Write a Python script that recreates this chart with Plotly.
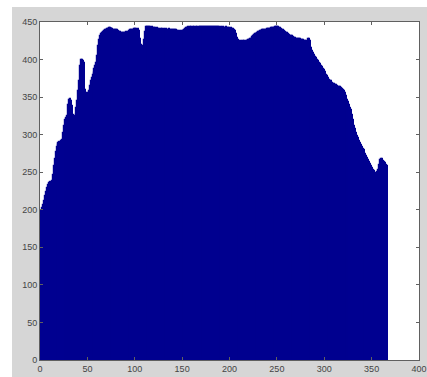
import plotly.graph_objects as go

# bar heights for x = 1 .. 367
heights = [
    196, 199, 203, 207, 212, 218, 224, 229, 233, 236,
    237, 236, 238, 246, 258, 268, 277, 284, 288, 289,
    290, 288, 291, 293, 302, 312, 320, 322, 325, 340,
    346, 347, 345, 338, 326, 324, 325, 328, 335, 345,
    358, 372, 392, 399, 400, 398, 395, 360, 355, 354,
    356, 358, 365, 372, 376, 380, 384, 388, 391, 395,
    405, 418, 426, 431, 434, 436, 437, 438, 439, 440,
    441, 441, 442, 442, 441, 442, 441, 440, 439, 439,
    440, 439, 438, 437, 437, 436, 436, 435, 436, 436,
    437, 436, 437, 438, 438, 439, 439, 440, 440, 441,
    441, 441, 440, 441, 438, 428, 419, 417, 418, 426,
    437, 444, 444, 443, 444, 443, 443, 442, 443, 442,
    442, 442, 441, 442, 441, 441, 440, 441, 441, 440,
    441, 440, 441, 441, 440, 440, 441, 440, 440, 439,
    440, 440, 439, 439, 438, 438, 437, 438, 437, 438,
    438, 439, 440, 441, 442, 442, 443, 442, 443, 443,
    442, 443, 443, 442, 443, 443, 442, 443, 443, 443,
    443, 443, 444, 443, 444, 444, 443, 444, 444, 443,
    444, 444, 443, 444, 443, 443, 444, 443, 443, 442,
    443, 443, 442, 443, 442, 442, 443, 442, 442, 442,
    441, 442, 441, 441, 440, 438, 434, 429, 426, 425,
    425, 424, 425, 424, 425, 425, 424, 425, 425, 426,
    426, 427, 428, 430, 432, 433, 434, 434, 435, 436,
    437, 437, 438, 438, 439, 439, 439, 440, 440, 441,
    441, 441, 441, 442, 442, 442, 442, 443, 443, 443,
    443, 443, 442, 442, 441, 440, 439, 438, 437, 436,
    435, 434, 433, 432, 432, 431, 430, 430, 429, 429,
    428, 428, 427, 427, 427, 426, 426, 426, 425, 425,
    425, 424, 427, 427, 425, 420, 416, 412, 409, 406,
    404, 402, 400, 398, 396, 394, 392, 390, 388, 386,
    383, 380, 378, 375, 374, 373, 372, 371, 369, 368,
    367, 366, 366, 365, 364, 364, 363, 362, 361, 360,
    358, 355, 352, 349, 346, 343, 340, 336, 333, 326,
    319, 312, 307, 302, 298, 295, 292, 289, 286, 284,
    281, 279, 277, 274, 271, 269, 266, 264, 261, 258,
    256, 253, 251, 249, 248, 250, 253, 260, 266, 268,
    268, 267, 265, 263, 262, 260, 258,
]
x_positions = list(range(1, len(heights) + 1))

x_ticks = [0, 50, 100, 150, 200, 250, 300, 350, 400]
y_ticks = [0, 50, 100, 150, 200, 250, 300, 350, 400, 450]

W, H = 427, 377
ML, MR, MT, MB = 40, 8, 22, 17
PW, PH = W - ML - MR, H - MT - MB

BAR_COLOR = "#000090"

fig = go.Figure(
    go.Bar(
        x=x_positions,
        y=heights,
        width=1,
        marker=dict(color=BAR_COLOR, line=dict(color=BAR_COLOR, width=1.2)),
        hoverinfo="skip",
    )
)

axis_common = dict(
    showline=True,
    linecolor="#606060",
    linewidth=1,
    mirror="ticks",
    ticks="inside",
    ticklen=3,
    tickcolor="#606060",
    showgrid=False,
    zeroline=False,
    automargin=False,
    tickfont=dict(family="Liberation Sans, Arial, sans-serif", size=9, color="#444444"),
    fixedrange=True,
)

fig.update_xaxes(range=[0, 400], tickvals=x_ticks, ticktext=[str(v) for v in x_ticks], **axis_common)
fig.update_yaxes(range=[0, 450], tickvals=y_ticks, ticktext=[str(v) for v in y_ticks], **axis_common)

# white strips outside the gray figure area (top and left edge of the image)
fig.add_shape(type="rect", xref="paper", yref="paper",
              x0=-ML / PW, x1=-(ML - 12) / PW, y0=-MB / PH, y1=1 + MT / PH,
              fillcolor="white", line=dict(width=0), layer="below")
fig.add_shape(type="rect", xref="paper", yref="paper",
              x0=-ML / PW, x1=1 + MR / PW, y0=1 + (MT - 7) / PH, y1=1 + MT / PH,
              fillcolor="white", line=dict(width=0), layer="below")

fig.update_layout(
    width=W,
    height=H,
    autosize=False,
    margin=dict(l=ML, r=MR, t=MT, b=MB, pad=0, autoexpand=False),
    paper_bgcolor="#d6d6d6",
    plot_bgcolor="white",
    bargap=0,
    showlegend=False,
)

fig.write_html(
    "out.html",
    config={"displayModeBar": False},
    post_script=(
        "document.body.style.margin='0';"
        "document.body.style.overflow='hidden';"
        "document.documentElement.style.overflow='hidden';"
    ),
)
